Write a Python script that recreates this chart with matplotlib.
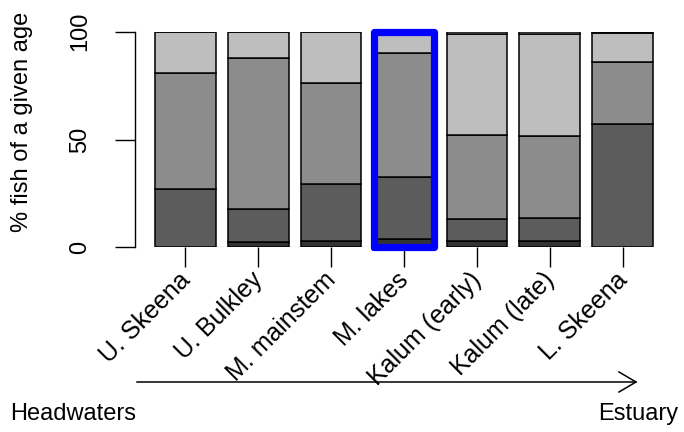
import matplotlib
matplotlib.use("Agg")
import matplotlib.pyplot as plt
import matplotlib.transforms as mtransforms
from matplotlib.lines import Line2D
import numpy as np

plt.rcParams['font.family'] = ['Liberation Sans', 'DejaVu Sans']

sites = ["U. Skeena", "U. Bulkley", "M. mainstem", "M. lakes",
         "Kalum (early)", "Kalum (late)", "L. Skeena"]
age_a = [0.0, 2.4, 2.9, 4.0, 2.8, 2.8, 0.3]
age_b = [27.3, 15.6, 26.4, 28.7, 10.2, 10.7, 56.7]
age_c = [53.5, 70.0, 46.8, 57.4, 39.0, 38.3, 29.0]
age_d = [19.2, 12.0, 23.6, 9.9, 47.0, 47.2, 13.5]
age_e = [0.0, 0.0, 0.3, 0.0, 1.0, 1.0, 0.5]
segments = [age_a, age_b, age_c, age_d, age_e]
seg_colors = ["#333333", "#5c5c5c", "#8c8c8c", "#bebebe", "#e0e0e0"]
highlight = "M. lakes"
y_ticks = [0, 50, 100]

FS = 17
W, H = 684, 432
fig = plt.figure(figsize=(W / 100, H / 100), dpi=100)
px_per_unit = 60.73
left_px, right_px = 135, 670
top_px, bottom_px = 31.7, 247.5
ax = fig.add_axes([left_px / W, 1 - bottom_px / H,
                   (right_px - left_px) / W, (bottom_px - top_px) / H])

n = len(sites)
centers = 0.7 + 1.2 * np.arange(n)
xmin = 0.2 - (155 - left_px) / px_per_unit
xmax = xmin + (right_px - left_px) / px_per_unit

bottoms = np.zeros(n)
for vals, col in zip(segments, seg_colors):
    vals = np.array(vals)
    ax.bar(centers, vals, width=1.0, bottom=bottoms, color=col,
           edgecolor="black", linewidth=1.1, zorder=2)
    bottoms += vals

# baseline
ax.plot([centers[0] - 0.5, centers[-1] + 0.5], [0, 0], color="#444444",
        linewidth=0.8, zorder=1)

# highlight box
hi = sites.index(highlight)
ax.plot([centers[hi] - 0.5, centers[hi] + 0.5, centers[hi] + 0.5,
         centers[hi] - 0.5, centers[hi] - 0.5],
        [0, 0, 100, 100, 0], color="#0000ff", linewidth=5.2,
        solid_joinstyle="round", solid_capstyle="round", clip_on=False, zorder=5)

ax.set_xlim(xmin, xmax)
ax.set_ylim(0, 100)
for s in ["top", "right", "bottom"]:
    ax.spines[s].set_visible(False)
ax.spines["left"].set_bounds(0, 100)
ax.spines["left"].set_linewidth(1.0)

ax.set_yticks(y_ticks)
ax.set_yticklabels([str(v) for v in y_ticks], rotation=90, va="center",
                   fontsize=FS)
ax.tick_params(axis="y", length=14.4, width=1.0, pad=17)

ax.set_xticks(centers)
ax.set_xticklabels([])
ax.tick_params(axis="x", length=14.4, width=1.0)

off = mtransforms.offset_copy(ax.transData, fig=fig, x=1, y=-29, units="dots")
for c, lab in zip(centers, sites):
    ax.text(c, 0, lab, transform=off, rotation=45, rotation_mode="anchor",
            ha="right", va="center", fontsize=18)

fig.text(22 / W, 1 - 122 / H, "% fish of a given age", rotation=90,
         ha="center", va="center", fontsize=FS)

# direction arrow
ay = H - 382
fig.add_artist(Line2D([137, 636], [ay, ay], transform=None, color="black",
                      linewidth=1.1))
fig.add_artist(Line2D([619, 636, 619], [ay + 10, ay, ay - 10], transform=None,
                      color="black", linewidth=1.1))
fig.text(10 / W, 1 - 414 / H, "Headwaters", ha="left", va="center", fontsize=FS)
fig.text(678 / W, 1 - 414 / H, "Estuary", ha="right", va="center", fontsize=FS)

fig.savefig("out.png", dpi=100)
